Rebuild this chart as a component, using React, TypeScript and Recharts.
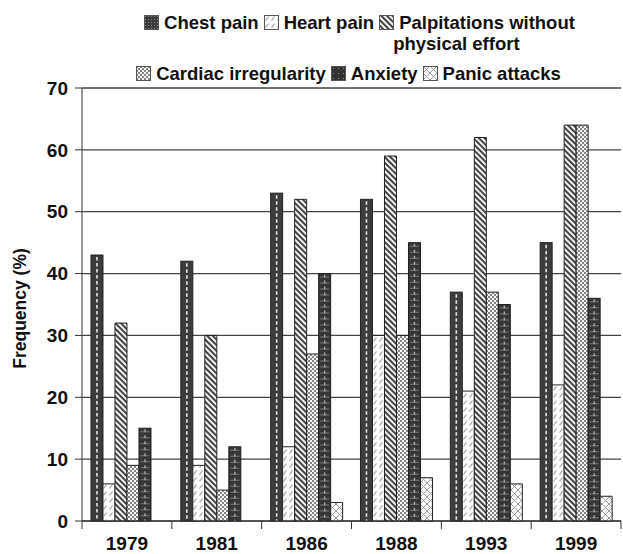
import React from 'react';
import { BarChart, Bar, XAxis, YAxis, CartesianGrid } from 'recharts';

const years = ['1979', '1981', '1986', '1988', '1993', '1999'];
const chestPain = [43, 42, 53, 52, 37, 45];
const heartPain = [6, 9, 12, 30, 21, 22];
const palpitations = [32, 30, 52, 59, 62, 64];
const cardiacIrregularity = [9, 5, 27, 30, 37, 64];
const anxiety = [15, 12, 40, 45, 35, 36];
const panicAttacks = [0, 0, 3, 7, 6, 4];
const yTicks = [0, 10, 20, 30, 40, 50, 60, 70];

const data = years.map((year, i) => ({
  year,
  chest: chestPain[i],
  heart: heartPain[i],
  palp: palpitations[i],
  cardiac: cardiacIrregularity[i],
  anxiety: anxiety[i],
  panic: panicAttacks[i],
}));

const FONT = '"Liberation Sans", Arial, sans-serif';
const EDGE = '#222';

function ChestShape(props: any) {
  const { x, y, width, height } = props;
  if (!height || height <= 0) return null;
  const cx = x + width / 2;
  return (
    <g>
      <rect x={x} y={y} width={width} height={height} fill="#3c3c3c" stroke={EDGE} strokeWidth={1} />
      <line x1={cx} x2={cx} y1={y + 2} y2={y + height} stroke="#e2e2e2" strokeWidth={1.6} strokeDasharray="3.5 2.5" />
    </g>
  );
}

function AnxietyShape(props: any) {
  const { x, y, width, height } = props;
  if (!height || height <= 0) return null;
  const cx = x + width / 2;
  return (
    <g>
      <rect x={x} y={y} width={width} height={height} fill="#363636" stroke={EDGE} strokeWidth={1} />
      <line x1={cx} x2={cx} y1={y + 3} y2={y + height} stroke="#7a7a7a" strokeWidth={Math.max(width - 3, 1)} strokeDasharray="1 5" />
      <line x1={cx} x2={cx} y1={y + 1} y2={y + height} stroke="#a8a8a8" strokeWidth={1.4} strokeDasharray="3 3" />
    </g>
  );
}

function Defs() {
  return (
    <svg width={0} height={0} style={{ position: 'absolute', left: 0, top: 0 }}>
      <defs>
        <pattern id="patHeart" patternUnits="userSpaceOnUse" width={6} height={7}>
          <rect width={6} height={7} fill="#ffffff" />
          <line x1={1.5} y1={5.5} x2={4.5} y2={1.5} stroke="#a0a0a0" strokeWidth={1.2} />
        </pattern>
        <pattern id="patPalp" patternUnits="userSpaceOnUse" width={4} height={4} patternTransform="rotate(-45)">
          <rect width={4} height={4} fill="#f2f2f2" />
          <rect width={2} height={4} fill="#444" />
        </pattern>
        <pattern id="patCardiac" patternUnits="userSpaceOnUse" width={4} height={4}>
          <rect width={4} height={4} fill="#f4f4f4" />
          <circle cx={1} cy={1} r={0.95} fill="#555" />
          <circle cx={3} cy={3} r={0.95} fill="#555" />
        </pattern>
        <pattern id="patPanic" patternUnits="userSpaceOnUse" width={7} height={7}>
          <rect width={7} height={7} fill="#ffffff" />
          <line x1={0} y1={0} x2={7} y2={7} stroke="#9a9a9a" strokeWidth={1} />
          <line x1={7} y1={0} x2={0} y2={7} stroke="#9a9a9a" strokeWidth={1} />
        </pattern>
        <pattern id="patChestSw" patternUnits="userSpaceOnUse" width={3} height={3}>
          <rect width={3} height={3} fill="#3a3a3a" />
          <rect x={1} y={1} width={1} height={1} fill="#8a8a8a" />
        </pattern>
        <pattern id="patAnxSw" patternUnits="userSpaceOnUse" width={5} height={5}>
          <rect width={5} height={5} fill="#333" />
          <rect x={2} y={2} width={1} height={1} fill="#888" />
        </pattern>
      </defs>
    </svg>
  );
}

const swatchFill: Record<string, string> = {
  chest: 'url(#patChestSw)',
  heart: 'url(#patHeart)',
  palp: 'url(#patPalp)',
  cardiac: 'url(#patCardiac)',
  anxiety: 'url(#patAnxSw)',
  panic: 'url(#patPanic)',
};

function Swatch({ kind }: { kind: string }) {
  const s = 15;
  return (
    <svg width={s} height={s} style={{ display: 'block', marginTop: 3, marginRight: 5, flex: 'none' }}>
      <rect x={0.5} y={0.5} width={s - 1} height={s - 1} fill={swatchFill[kind]} stroke="#555" strokeWidth={1} />
    </svg>
  );
}

function LegendItem({ kind, lines }: { kind: string; lines: string[] }) {
  return (
    <div style={{ display: 'flex', alignItems: 'flex-start', marginRight: 5 }}>
      <Swatch kind={kind} />
      <div>
        {lines.map((l, i) => (
          <div key={l} style={{ whiteSpace: 'nowrap', marginLeft: i > 0 ? -6 : 0 }}>{l}</div>
        ))}
      </div>
    </div>
  );
}

function XTick(props: any) {
  const { x, y, payload, index } = props;
  const half = 44.9;
  const axisY = y - 16;
  return (
    <g>
      <line x1={x - half} x2={x - half} y1={axisY} y2={axisY + 8} stroke="#333" strokeWidth={1} />
      {index === years.length - 1 && (
        <line x1={x + half} x2={x + half} y1={axisY} y2={axisY + 8} stroke="#333" strokeWidth={1} />
      )}
      <text x={x} y={y} dy={13} textAnchor="middle" fontFamily={FONT} fontWeight={700} fontSize={19} fill="#111">
        {payload.value}
      </text>
    </g>
  );
}

export default function App() {
  return (
    <div style={{ position: 'absolute', left: 0, top: 0, width: 623, height: 554, background: '#fff', overflow: 'hidden' }}>
      <Defs />
      <div
        style={{
          position: 'absolute',
          left: 0,
          top: 12,
          width: 623,
          fontFamily: FONT,
          fontWeight: 700,
          fontSize: 18.5,
          lineHeight: '21px',
          color: '#111',
          zIndex: 2,
        }}
      >
        <div style={{ display: 'flex', justifyContent: 'center', paddingLeft: 101 }}>
          <LegendItem kind="chest" lines={['Chest pain']} />
          <LegendItem kind="heart" lines={['Heart pain']} />
          <LegendItem kind="palp" lines={['Palpitations without', 'physical effort']} />
        </div>
        <div style={{ display: 'flex', justifyContent: 'center', marginTop: 9, paddingLeft: 79 }}>
          <LegendItem kind="cardiac" lines={['Cardiac irregularity']} />
          <LegendItem kind="anxiety" lines={['Anxiety']} />
          <LegendItem kind="panic" lines={['Panic attacks']} />
        </div>
      </div>
      <BarChart
        width={623}
        height={554}
        data={data}
        margin={{ top: 88, right: 2, left: 0, bottom: 0 }}
        barCategoryGap="10%"
        barGap={0}
      >
        <CartesianGrid vertical={false} stroke="#444" strokeWidth={1.3} />
        <XAxis
          dataKey="year"
          height={33}
          axisLine={{ stroke: '#333' }}
          tickLine={false}
          tickSize={8}
          tickMargin={8}
          tick={<XTick />}
          interval={0}
        />
        <YAxis
          width={82}
          domain={[0, 70]}
          ticks={yTicks}
          interval={0}
          axisLine={{ stroke: '#333' }}
          tickLine={{ stroke: '#333' }}
          tickSize={7}
          tickMargin={7}
          tick={{ fontFamily: FONT, fontWeight: 700, fontSize: 19, fill: '#111' }}
          label={{
            value: 'Frequency (%)',
            angle: -90,
            position: 'insideLeft',
            offset: 20,
            dy: 4,
            style: { textAnchor: 'middle', fontFamily: FONT, fontWeight: 700, fontSize: 17.5, fill: '#111' },
          }}
        />
        <Bar dataKey="chest" shape={(p: any) => <ChestShape {...p} />} isAnimationActive={false} />
        <Bar dataKey="heart" fill="url(#patHeart)" stroke={EDGE} strokeWidth={1} isAnimationActive={false} />
        <Bar dataKey="palp" fill="url(#patPalp)" stroke={EDGE} strokeWidth={1} isAnimationActive={false} />
        <Bar dataKey="cardiac" fill="url(#patCardiac)" stroke={EDGE} strokeWidth={1} isAnimationActive={false} />
        <Bar dataKey="anxiety" shape={(p: any) => <AnxietyShape {...p} />} isAnimationActive={false} />
        <Bar dataKey="panic" fill="url(#patPanic)" stroke={EDGE} strokeWidth={1} isAnimationActive={false} />
      </BarChart>
    </div>
  );
}
